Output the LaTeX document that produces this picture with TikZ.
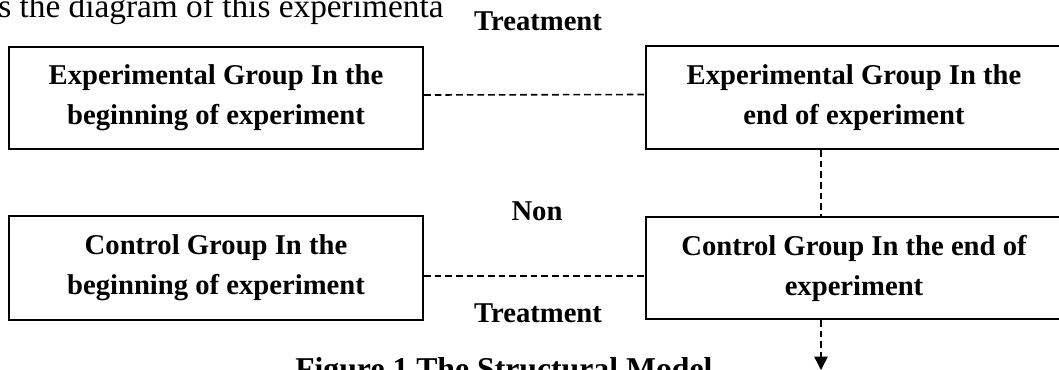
\documentclass[tikz,border=0pt]{standalone}
\usepackage{fontspec}
\setmainfont{Liberation Serif}
\usetikzlibrary{arrows.meta}
\begin{document}
\begin{tikzpicture}[x=0.75pt,y=-0.75pt,
  box/.style={draw, line width=1.7pt, align=center, inner sep=0pt,
    font=\fontsize{21.5}{30}\selectfont\bfseries},
  lbl/.style={inner sep=0pt, anchor=base, font=\fontsize{21.5}{26}\selectfont\bfseries},
  conn/.style={line width=1.2pt, dash pattern=on 5pt off 3pt}]
\useasboundingbox (0,0) rectangle (1059,369);
\clip (0,0) rectangle (1059,369);
% stray text fragments
\node[inner sep=0pt, anchor=base west, font=\fontsize{25}{30}\selectfont] (toptext) at (-2,17) {s the diagram of this experimenta};
\node[inner sep=0pt, anchor=base west, font=\fontsize{23.8}{28}\selectfont\bfseries] (caption) at (295,379) {Figure 1 The Structural Model};
% boxes
\node[box, minimum width=310.5pt, minimum height=77pt] (eb) at (216,98) {Experimental Group In the\\beginning of experiment};
\node[box, minimum width=312pt, minimum height=77pt] (ee) at (854,97.5) {Experimental Group In the\\end of experiment};
\node[box, minimum width=310.5pt, minimum height=78pt] (cb) at (216,268) {Control Group In the\\beginning of experiment};
\node[box, minimum width=312pt, minimum height=76.5pt] (ce) at (854,268) {Control Group In the end of\\experiment};
% labels
\node[lbl] (t1) at (538,30) {Treatment};
\node[lbl] (non) at (537,220) {Non};
\node[lbl] (t2) at (538,322) {Treatment};
% connectors
\coordinate (arrowend) at (821,370);
\draw[conn] ([yshift=2.25pt]eb.east) -- ([yshift=2.25pt]ee.west);
\draw[conn] ([yshift=-6pt]cb.east) -- ([yshift=-6pt]ce.west);
\draw[conn] ([xshift=-24.75pt]ee.south) -- ([xshift=-24.75pt]ce.north);
\draw[conn, -{Triangle[length=10pt,width=10pt]}] ([xshift=-24.75pt]ce.south) -- (arrowend);
\end{tikzpicture}
\end{document}
